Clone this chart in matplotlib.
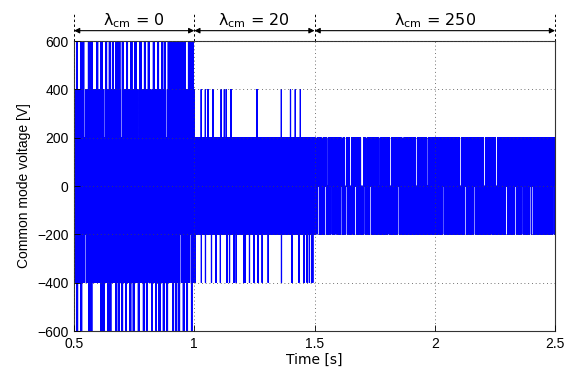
import matplotlib
matplotlib.use('Agg')
import matplotlib.pyplot as plt
import numpy as np

plt.rcParams['mathtext.default'] = 'regular'

# three operating segments, lambda_cm used in each, and the usual switching levels
seg_edges = [0.5, 1.0, 1.5, 2.5]
seg_lambda = [0, 20, 250]
seg_hi = [400, 200, 200]
seg_lo = [-400, -200, -200]

# lambda_cm = 0 : instants where the CM voltage reaches +600 / -600
peak_600 = [0.5125, 0.529, 0.538, 0.561, 0.572, 0.596, 0.614, 0.633, 0.648, 0.661,
            0.676, 0.688, 0.702, 0.720, 0.738, 0.755, 0.776, 0.794, 0.810, 0.831,
            0.849, 0.866, 0.877, 0.893, 0.899, 0.905, 0.911, 0.917, 0.923, 0.929,
            0.935, 0.941, 0.947, 0.953, 0.959, 0.977, 0.985, 0.993]
peak_m600 = [0.5125, 0.530, 0.564, 0.572, 0.614, 0.623, 0.641, 0.651, 0.675, 0.686,
             0.700, 0.716, 0.734, 0.748, 0.769, 0.790, 0.803, 0.824, 0.841, 0.855,
             0.873, 0.887, 0.912, 0.925, 0.938, 0.956, 0.970, 0.988]
# lambda_cm = 0 : instants where the max stays at +200 / the min stays at -200
hi_cut_200 = [0.544, 0.578, 0.626, 0.683, 0.697, 0.769, 0.786, 0.821, 0.884, 0.970]
lo_cut_200 = [0.547, 0.578, 0.591, 0.603, 0.628, 0.665, 0.707, 0.752, 0.808, 0.845,
              0.866, 0.907, 0.942, 0.984]

# lambda_cm = 20 : instants where the CM voltage reaches +400 / -400
peak_400 = [1.029, 1.046, 1.057, 1.077, 1.112, 1.125, 1.133, 1.153, 1.261, 1.362,
            1.400, 1.420, 1.441]
peak_m400 = [1.004, 1.029, 1.046, 1.071, 1.090, 1.108, 1.136, 1.146, 1.164, 1.174,
             1.206, 1.212, 1.229, 1.247, 1.265, 1.282, 1.307, 1.362, 1.406, 1.434,
             1.455, 1.469, 1.478, 1.487, 1.492]

# lambda_cm = 250 : instants where the max stays at 0 / the min stays at 0
hi_cut_0 = [1.506, 1.531, 1.552, 1.614, 1.628, 1.649, 1.695, 1.700, 1.714, 1.771,
            1.815, 1.867, 1.923, 1.968, 2.106, 2.206, 2.256]
lo_cut_0 = [1.510, 1.517, 1.545, 1.569, 1.589, 1.611, 1.632, 1.656, 1.670, 1.709,
            1.732, 1.809, 1.850, 2.035, 2.127, 2.166, 2.234, 2.298, 2.335, 2.366,
            2.397, 2.407, 2.495]

dt = 0.0005
t = np.arange(seg_edges[0], seg_edges[-1] + dt / 2, dt)
hi = np.zeros_like(t)
lo = np.zeros_like(t)
for k in range(len(seg_lambda)):
    m = (t >= seg_edges[k]) & (t <= seg_edges[k + 1])
    hi[m] = seg_hi[k]
    lo[m] = seg_lo[k]


def set_level(arr, times, value, half):
    for ts in times:
        arr[np.abs(t - ts) <= half] = value


set_level(hi, peak_600, 600, 0.003)
set_level(lo, peak_m600, -600, 0.003)
set_level(hi, hi_cut_200, 200, 0.0025)
set_level(lo, lo_cut_200, -200, 0.0025)
set_level(hi, peak_400, 400, 0.0015)
set_level(lo, peak_m400, -400, 0.0015)
set_level(hi, hi_cut_0, 0, 0.003)
set_level(lo, lo_cut_0, 0, 0.003)

# fast switching: alternate between the upper and lower level of each instant
v = np.where(np.arange(len(t)) % 2 == 0, hi, lo)

fig = plt.figure(figsize=(5.74, 3.77), dpi=100)
ax = fig.add_axes([0.129, 0.122, 0.838, 0.769])
ax.plot(t, v, color='#0000ff', lw=0.5)

ax.set_xlim(0.5, 2.5)
ax.set_ylim(-600, 600)
ax.set_xticks([0.5, 1, 1.5, 2, 2.5])
ax.set_xticklabels(['0.5', '1', '1.5', '2', '2.5'])
ax.set_yticks(range(-600, 601, 200))
ax.tick_params(direction='in', length=4, width=0.6, labelsize=10, pad=4)
for lab in ax.get_xticklabels() + ax.get_yticklabels():
    lab.set_family('Liberation Sans')
for s in ax.spines.values():
    s.set_linewidth(0.8)
    s.set_color('#333333')
ax.grid(True, color='#444444', lw=0.6, linestyle=(0, (1, 3.5)))
ax.set_axisbelow(False)

ax.set_xlabel('Time [s]', family='DejaVu Sans', fontsize=10, labelpad=2)
ax.set_ylabel('Common mode voltage [V]', family='Liberation Sans', fontsize=10, labelpad=4)

# segment markers above the axes
tr = ax.get_xaxis_transform()
for xe in seg_edges:
    ax.plot([xe, xe], [1.0, 1.1], transform=tr, color='black', lw=0.7,
            linestyle=(0, (2.5, 2.5)), clip_on=False)
for k in range(len(seg_lambda)):
    ax.annotate('', xy=(seg_edges[k], 1.036), xytext=(seg_edges[k + 1], 1.036),
                xycoords=tr, textcoords=tr,
                arrowprops=dict(arrowstyle='<|-|>', color='black', lw=0.8,
                                mutation_scale=8, shrinkA=0, shrinkB=0))
    ax.text((seg_edges[k] + seg_edges[k + 1]) / 2, 1.072,
            r'$\lambda_{cm}$ = %d' % seg_lambda[k],
            transform=tr, ha='center', va='center', fontsize=11.5)

fig.savefig('out.png', dpi=100)
